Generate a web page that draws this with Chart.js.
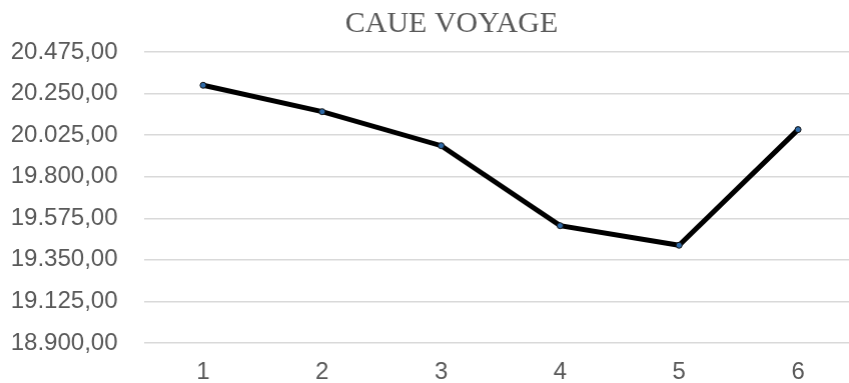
<!DOCTYPE html>
<html>
<head>
<meta charset="utf-8">
<script src="https://cdn.jsdelivr.net/npm/chart.js@4/dist/chart.umd.min.js"></script>
<style>
  html, body { margin: 0; padding: 0; background: #fff; overflow: hidden; }
  #wrap { width: 861.5px; height: 387px; position: relative; }
</style>
</head>
<body>
<div id="wrap"><canvas id="chart"></canvas></div>
<script>
// CAUE VOYAGE line chart.
const categories = ["1", "2", "3", "4", "5", "6"];
const values = [20295, 20152, 19968, 19535, 19429, 20055];
const yMin = 18900;
const yMax = 20475;
const yStep = 225;

const grey = "#595959";

// 20475 -> "20.475,00"
function fmtNum(v) {
  const [int, dec] = v.toFixed(2).split(".");
  return int.replace(/\B(?=(\d{3})+(?!\d))/g, ".") + "," + dec;
}

// Excel centres the title a bit right of the canvas middle; nudge its box.
const shiftTitle = {
  id: "shiftTitle",
  afterLayout(chart) {
    if (chart.titleBlock) chart.titleBlock.left = 40.5;
  },
};

new Chart(document.getElementById("chart"), {
  type: "line",
  data: {
    labels: categories,
    datasets: [{
      data: values,
      borderColor: "#000",
      borderWidth: 5,
      pointRadius: 3,
      pointBackgroundColor: "#2e6aa8",
      pointBorderColor: "#111",
      pointBorderWidth: 1,
      tension: 0,
    }],
  },
  options: {
    responsive: true,
    maintainAspectRatio: false,
    animation: false,
    layout: { padding: { left: 10, right: 0, top: 0, bottom: 0 } },
    plugins: {
      legend: { display: false },
      tooltip: { enabled: false },
      title: {
        display: true,
        text: "CAUE VOYAGE",
        color: grey,
        font: { family: "'Liberation Serif', 'Times New Roman', serif", size: 30, weight: "normal" },
        padding: { top: 6, bottom: 10 },
      },
    },
    scales: {
      x: {
        offset: true,
        grid: { display: false, drawTicks: false },
        border: { display: false },
        ticks: {
          color: grey,
          padding: 15,
          font: { family: "'Liberation Sans', Arial, sans-serif", size: 24 },
        },
        afterFit: (s) => { s.height = 44; },
      },
      y: {
        min: yMin,
        max: yMax,
        grid: { color: "#d9d9d9", lineWidth: 1.5, drawTicks: false },
        border: { display: false },
        ticks: {
          stepSize: yStep,
          color: grey,
          padding: 26,
          font: { family: "'Liberation Sans', Arial, sans-serif", size: 24 },
          callback: (v) => fmtNum(v),
        },
        afterFit: (s) => { s.width = 133.5; },
      },
    },
  },
  plugins: [shiftTitle],
});
</script>
</body>
</html>
